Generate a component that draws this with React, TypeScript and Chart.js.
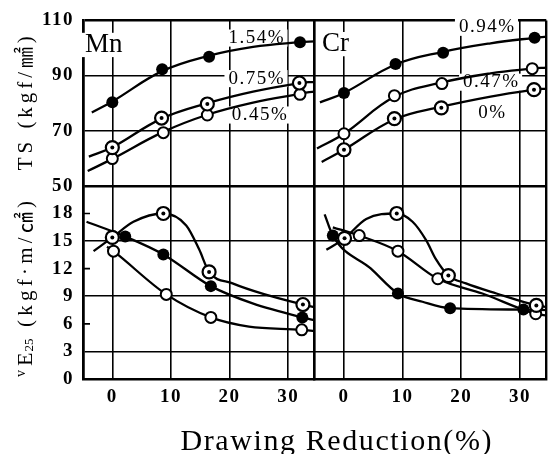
import React, { useEffect, useRef } from 'react';
import { Chart, registerables } from 'chart.js';

Chart.register(...registerables);

type Pt = [number, number];

// ---------- axes ----------
const X_MIN = -5;
const X_MAX = 34.5;
const xGridValues = [-5, 0, 10, 20, 30, 34.5];
const xLabelValues = [0, 10, 20, 30];
const TS_MIN = 50;
const TS_MAX = 110;
const tsTickValues = [50, 70, 90, 110];
const VE_MIN = 0;
const VE_MAX = 21;
const veTickValues = [0, 3, 6, 9, 12, 15, 18];
const veGridValues = [3, 9, 15];
const veStubValues = [6, 12, 18];

// ---------- TS, Mn panel ----------
const mnTs154: Pt[] = [[0, 80.3], [8.5, 92.3], [16.5, 96.8], [32, 102.1]];
const mnTs075: Pt[] = [[0, 63.9], [8.4, 74.6], [16.2, 79.7], [31.9, 87.3]];
const mnTs045: Pt[] = [[0, 59.9], [8.7, 69.3], [16.2, 75.7], [32, 83.2]];
const mnTs154Fit: Pt[] = [[-3.5, 76.6], [0, 80.6], [8.5, 91.6], [16.5, 97.2], [24, 100.4], [32, 102.1], [34.5, 102.4]];
const mnTs075Fit: Pt[] = [[-4, 60.6], [0, 64], [8.4, 74.4], [16.2, 80.0], [24, 84.2], [32, 87.3], [34.5, 87.7]];
const mnTs045Fit: Pt[] = [[-4.2, 55.4], [0, 59.8], [8.7, 69.6], [16.2, 75.8], [24, 80.2], [32, 83.4], [34.5, 84.3]];

// ---------- TS, Cr panel ----------
const crTs094: Pt[] = [[0, 83.7], [8.8, 94.2], [16.9, 98.3], [32.5, 103.7]];
const crTs047: Pt[] = [[0, 68.9], [8.6, 82.7], [16.7, 87.1], [32.1, 92.5]];
const crTs0: Pt[] = [[0, 63.1], [8.6, 74.4], [16.6, 78.3], [32.4, 84.9]];
const crTs094Fit: Pt[] = [[-4.1, 80.3], [0, 83.7], [8.8, 94], [16.9, 98.6], [25, 101.7], [32.5, 103.7], [34.5, 104.1]];
const crTs047Fit: Pt[] = [[-4.6, 63.6], [0, 68.9], [8.6, 82.3], [16.7, 87.5], [25, 90.8], [32.1, 92.5], [34.5, 92.9]];
const crTs0Fit: Pt[] = [[-3.8, 58.7], [0, 63.1], [8.6, 74.1], [16.6, 78.7], [25, 82.4], [32.4, 84.9], [34.5, 85.3]];

// ---------- vE25, Mn panel ----------
const mnVe154: Pt[] = [[2.2, 15.5], [8.7, 13.55], [16.8, 10.1], [32.4, 6.7]];
const mnVe075: Pt[] = [[0, 15.4], [8.7, 18.0], [16.5, 11.65], [32.5, 8.1]];
const mnVe045: Pt[] = [[0.2, 13.9], [9.2, 9.2], [16.8, 6.7], [32.3, 5.35]];
const mnVe154Fit: Pt[] = [[-4.4, 17.1], [2.2, 15.5], [8.7, 13.55], [16.8, 10.1], [23.8, 8.25], [32.4, 6.7], [34.5, 6.4]];
const mnVe075Fit: Pt[] = [[-3.2, 13.9], [0, 15.4], [3.6, 17.1], [8.7, 18.0], [12.6, 16.7], [14.8, 14.1], [16.5, 11.65], [20.5, 10.4], [26, 9.2], [32.5, 8.1], [34.5, 7.8]];
const mnVe045Fit: Pt[] = [[-0.9, 14.4], [0.2, 13.9], [9.2, 9.2], [16.8, 6.7], [23.3, 5.7], [32.3, 5.35], [34.5, 5.2]];

// ---------- vE25, Cr panel ----------
const crVe094: Pt[] = [[-1.9, 15.6], [9.2, 9.3], [18.1, 7.7], [30.6, 7.55]];
const crVe047: Pt[] = [[2.6, 15.6], [9.2, 13.9], [16, 10.9], [32.7, 7.1]];
const crVe0: Pt[] = [[0.1, 15.3], [9, 18.0], [17.8, 11.25], [32.8, 8.0]];
const crVe094Fit: Pt[] = [[-3.3, 17.9], [-1.9, 15.6], [4.6, 12.0], [9.2, 9.3], [13.4, 8.4], [18.1, 7.7], [30.6, 7.55], [34.7, 7.5]];
const crVe047Fit: Pt[] = [[-1.9, 16.5], [2.6, 15.6], [9.2, 13.9], [16, 10.9], [23.6, 9.3], [32.7, 7.1], [34.7, 6.9]];
const crVe0Fit: Pt[] = [[-3, 14.05], [0.1, 15.3], [3.8, 17.4], [9, 18.0], [11.7, 17.1], [14, 15.1], [15.7, 13], [17.8, 11.25], [20.8, 10.4], [26, 9.3], [32.8, 8.0], [34.7, 7.8]];

// ---------- texts ----------
const panelNames = ['Mn', 'Cr'];
const seriesNames = ['1.54%', '0.75%', '0.45%', '0.94%', '0.47%', '0%'];
const TS_TITLE = 'TS (kgf/㎟)';
const VE_TITLE_REST = '(kgf·m/㎠)';
const X_TITLE = 'Drawing Reduction(%)';

const SERIF = '"Liberation Serif", "Noto Sans CJK JP", serif';

const labelSpecs = [
  { text: panelNames[0], xAxis: 'xMn', x: -1.45, y: 101.1, size: 27, sp: 0 },
  { text: panelNames[1], xAxis: 'xCr', x: -1.44, y: 101.4, size: 27, sp: 0 },
  { text: seriesNames[0], xAxis: 'xMn', x: 24.5, y: 103.6, size: 19, sp: 1.5 },
  { text: seriesNames[1], xAxis: 'xMn', x: 24.5, y: 88.9, size: 19, sp: 1.5 },
  { text: seriesNames[2], xAxis: 'xMn', x: 25.05, y: 75.7, size: 19, sp: 1.5 },
  { text: seriesNames[3], xAxis: 'xCr', x: 24.3, y: 107.5, size: 19, sp: 1.5 },
  { text: seriesNames[4], xAxis: 'xCr', x: 25.0, y: 87.6, size: 19, sp: 1.5 },
  { text: seriesNames[5], xAxis: 'xCr', x: 25.2, y: 76.3, size: 19, sp: 1.5 },
];

const toXY = (a: Pt[]) => a.map(([x, y]) => ({ x, y }));

function fitLine(data: Pt[], xAxisID: string, yAxisID: string, smooth: 'tension' | 'monotone') {
  return {
    data: toXY(data), xAxisID, yAxisID, showLine: true,
    borderColor: '#000', borderWidth: 2.3, pointRadius: 0,
    cubicInterpolationMode: smooth === 'monotone' ? 'monotone' : 'default',
    tension: smooth === 'monotone' ? 0 : 0.4,
    fill: false, order: 10,
  };
}
function filled(data: Pt[], xAxisID: string, yAxisID: string) {
  return {
    data: toXY(data), xAxisID, yAxisID, showLine: false,
    pointRadius: 6, pointBackgroundColor: '#000', pointBorderColor: '#000', pointBorderWidth: 0, order: 2,
  };
}
function open(data: Pt[], xAxisID: string, yAxisID: string) {
  return {
    data: toXY(data), xAxisID, yAxisID, showLine: false,
    pointRadius: 5.5, pointBackgroundColor: '#fff', pointBorderColor: '#000', pointBorderWidth: 2, order: 1,
  };
}
function dotted(data: Pt[], xAxisID: string, yAxisID: string) {
  return [
    {
      data: toXY(data), xAxisID, yAxisID, showLine: false,
      pointRadius: 6.5, pointBackgroundColor: '#fff', pointBorderColor: '#000', pointBorderWidth: 2.2, order: 0,
    },
    {
      data: toXY(data), xAxisID, yAxisID, showLine: false,
      pointRadius: 2, pointBackgroundColor: '#000', pointBorderWidth: 0, order: -1,
    },
  ];
}

function drawFitted(ctx: CanvasRenderingContext2D, text: string, x: number, y: number, width: number, font: string, align: string) {
  ctx.font = font;
  (ctx as any).letterSpacing = '0px';
  const n = Array.from(text).length;
  const w0 = ctx.measureText(text).width;
  const sp = n > 1 ? (width - w0) / (n - 1) : 0;
  (ctx as any).letterSpacing = sp + 'px';
  ctx.textAlign = 'left';
  ctx.fillText(text, align === 'center' ? x - width / 2 : x, y);
  (ctx as any).letterSpacing = '0px';
}

const textPlugin = {
  id: 'textPlugin',
  beforeDraw(chart: any) {
    chart.ctx.letterSpacing = '1.5px';
  },
  beforeDatasetsDraw(chart: any) {
    const ctx = chart.ctx as CanvasRenderingContext2D;
    ctx.save();
    (ctx as any).letterSpacing = '0px';
    const yVE = chart.scales.yVE;
    ctx.strokeStyle = '#000';
    ctx.lineWidth = 1.6;
    ctx.beginPath();
    for (const v of veStubValues) {
      const py = yVE.getPixelForValue(v);
      ctx.moveTo(chart.chartArea.left, py);
      ctx.lineTo(chart.chartArea.left + 7, py);
    }
    ctx.stroke();
    for (const a of labelSpecs) {
      const px = chart.scales[a.xAxis].getPixelForValue(a.x);
      const py = chart.scales.yTS.getPixelForValue(a.y);
      ctx.font = `${a.size}px ${SERIF}`;
      (ctx as any).letterSpacing = a.sp + 'px';
      const w = ctx.measureText(a.text).width - a.sp;
      ctx.fillStyle = '#fff';
      ctx.fillRect(px - w / 2 - 4, py - a.size * 0.45, w + 8, a.size * 0.9);
      ctx.fillStyle = '#000';
      ctx.textAlign = 'left';
      ctx.textBaseline = 'middle';
      ctx.fillText(a.text, px - w / 2, py);
    }
    ctx.restore();
  },
  afterDraw(chart: any) {
    const ctx = chart.ctx as CanvasRenderingContext2D;
    ctx.save();
    ctx.fillStyle = '#000';
    ctx.textBaseline = 'alphabetic';
    drawFitted(ctx, X_TITLE, 336, 450, 311, `30px ${SERIF}`, 'center');
    const yTS = chart.scales.yTS;
    ctx.save();
    ctx.translate(32, (yTS.top + yTS.bottom) / 2);
    ctx.rotate(-Math.PI / 2);
    drawFitted(ctx, TS_TITLE, 0, 0, 134, `21px ${SERIF}`, 'center');
    ctx.restore();
    const yVE = chart.scales.yVE;
    ctx.save();
    ctx.translate(32, yVE.bottom - 2);
    ctx.rotate(-Math.PI / 2);
    ctx.textAlign = 'left';
    ctx.font = `14px ${SERIF}`;
    ctx.fillText('v', 0, -7);
    ctx.font = `22px ${SERIF}`;
    ctx.fillText('E', 11, 0);
    const wE = ctx.measureText('E').width;
    ctx.font = `13px ${SERIF}`;
    ctx.fillText('25', 11 + wE + 1, 1);
    drawFitted(ctx, VE_TITLE_REST, 50, 0, 126, `21px ${SERIF}`, 'left');
    ctx.restore();
    ctx.restore();
    (ctx as any).letterSpacing = '0px';
  },
};

const tickFont = { family: SERIF, size: 19, weight: 'bold' as const };

function xScale(weightIdx: number) {
  return {
    type: 'linear', position: 'bottom', stack: 'xs', stackWeight: 1, weight: weightIdx,
    min: X_MIN, max: X_MAX,
    afterBuildTicks: (s: any) => { s.ticks = xGridValues.map((v) => ({ value: v })); },
    afterFit: (s: any) => { s.height = 75; },
    ticks: {
      autoSkip: false, maxRotation: 0, minRotation: 0, color: '#000', font: tickFont, padding: 7,
      callback: (v: number) => (xLabelValues.includes(v) ? String(v) : ''),
    },
    grid: {
      color: '#000', drawTicks: false,
      lineWidth: (c: any) => (c.tick && (c.tick.value === X_MIN || c.tick.value === X_MAX) ? 2.4 : 1.6),
    },
    border: { color: '#000', width: 2.6 },
  };
}

export default function App() {
  const ref = useRef<HTMLCanvasElement | null>(null);
  useEffect(() => {
    if (!ref.current) return;
    const datasets: any[] = [
      fitLine(mnTs154Fit, 'xMn', 'yTS', 'tension'), fitLine(mnTs075Fit, 'xMn', 'yTS', 'tension'), fitLine(mnTs045Fit, 'xMn', 'yTS', 'tension'),
      fitLine(crTs094Fit, 'xCr', 'yTS', 'tension'), fitLine(crTs047Fit, 'xCr', 'yTS', 'tension'), fitLine(crTs0Fit, 'xCr', 'yTS', 'tension'),
      fitLine(mnVe154Fit, 'xMn', 'yVE', 'monotone'), fitLine(mnVe075Fit, 'xMn', 'yVE', 'monotone'), fitLine(mnVe045Fit, 'xMn', 'yVE', 'monotone'),
      fitLine(crVe094Fit, 'xCr', 'yVE', 'monotone'), fitLine(crVe047Fit, 'xCr', 'yVE', 'monotone'), fitLine(crVe0Fit, 'xCr', 'yVE', 'monotone'),
      filled(mnTs154, 'xMn', 'yTS'), ...dotted(mnTs075, 'xMn', 'yTS'), open(mnTs045, 'xMn', 'yTS'),
      filled(crTs094, 'xCr', 'yTS'), open(crTs047, 'xCr', 'yTS'), ...dotted(crTs0, 'xCr', 'yTS'),
      filled(mnVe154, 'xMn', 'yVE'), ...dotted(mnVe075, 'xMn', 'yVE'), open(mnVe045, 'xMn', 'yVE'),
      filled(crVe094, 'xCr', 'yVE'), open(crVe047, 'xCr', 'yVE'), ...dotted(crVe0, 'xCr', 'yVE'),
    ];
    const chart = new Chart(ref.current, {
      type: 'scatter',
      data: { datasets },
      options: {
        responsive: false,
        animation: false,
        events: [],
        layout: { padding: { left: 0, right: 5, top: 15, bottom: 0 } },
        plugins: { legend: { display: false }, tooltip: { enabled: false }, title: { display: false } },
        scales: {
          xMn: xScale(0),
          xCr: xScale(1),
          yVE: {
            type: 'linear', position: 'left', stack: 'ys', stackWeight: 196,
            min: VE_MIN, max: VE_MAX,
            afterBuildTicks: (s: any) => { s.ticks = veTickValues.map((v) => ({ value: v })); },
            afterFit: (s: any) => { s.width = 83; },
            ticks: { color: '#000', font: tickFont, padding: 9, autoSkip: false },
            grid: {
              drawTicks: false, lineWidth: 1.6,
              color: (c: any) => (c.tick && veGridValues.includes(c.tick.value) ? '#000' : 'rgba(0,0,0,0)'),
            },
            border: { color: '#000', width: 2.6 },
          },
          yTS: {
            type: 'linear', position: 'left', stack: 'ys', stackWeight: 168,
            min: TS_MIN, max: TS_MAX,
            afterBuildTicks: (s: any) => { s.ticks = tsTickValues.map((v) => ({ value: v })); },
            afterFit: (s: any) => { s.width = 83; },
            ticks: { color: '#000', font: tickFont, padding: 9, autoSkip: false },
            grid: {
              drawTicks: false, color: '#000',
              lineWidth: (c: any) => (c.tick && (c.tick.value === TS_MIN || c.tick.value === TS_MAX) ? 2.4 : 1.6),
            },
            border: { color: '#000', width: 2.6 },
          },
        },
      } as any,
      plugins: [textPlugin as any],
    });
    return () => chart.destroy();
  }, []);
  return (
    <div style={{ position: 'absolute', left: 0, top: 0, width: 555, height: 454, background: '#fff' }}>
      <canvas ref={ref} width={555} height={454} style={{ display: 'block' }} />
    </div>
  );
}
